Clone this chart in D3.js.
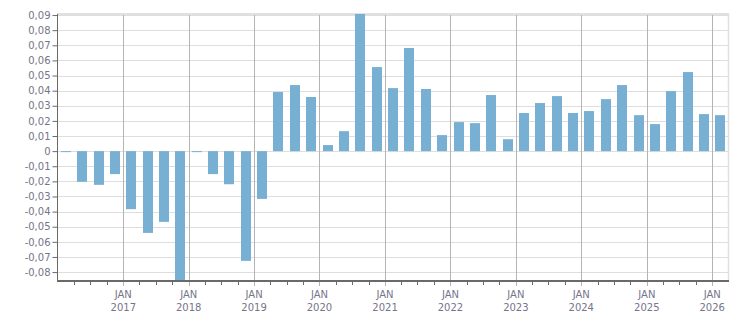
<!DOCTYPE html>
<html>
<head>
<meta charset="utf-8">
<script src="https://cdn.jsdelivr.net/npm/d3@7"></script>
<style>
  body { margin: 0; background: #fff; }
  svg { display: block; font-family: "DejaVu Sans", Verdana, sans-serif; }
  .lbl { fill: #75758a; font-size: 10px; }
</style>
</head>
<body>
<div class="chart"></div>
<script>
// quarters, Q1 2016 .. Q1 2026
const quarters = [
  "2016-01", "2016-04", "2016-07", "2016-10",
  "2017-01", "2017-04", "2017-07", "2017-10",
  "2018-01", "2018-04", "2018-07", "2018-10",
  "2019-01", "2019-04", "2019-07", "2019-10",
  "2020-01", "2020-04", "2020-07", "2020-10",
  "2021-01", "2021-04", "2021-07", "2021-10",
  "2022-01", "2022-04", "2022-07", "2022-10",
  "2023-01", "2023-04", "2023-07", "2023-10",
  "2024-01", "2024-04", "2024-07", "2024-10",
  "2025-01", "2025-04", "2025-07", "2025-10",
  "2026-01"
];
const values = [
  -0.0004, -0.0203, -0.0223, -0.0152,
  -0.0384, -0.0541, -0.0468, -0.0920,
  -0.0004, -0.0152, -0.0219, -0.0726,
  -0.0316, 0.0391, 0.0437, 0.0358,
  0.0040, 0.0132, 0.0930, 0.0556,
  0.0417, 0.0682, 0.0411, 0.0106,
  0.0192, 0.0185, 0.0371, 0.0079,
  0.0252, 0.0318, 0.0364, 0.0252,
  0.0265, 0.0344, 0.0437, 0.0238,
  0.0179, 0.0397, 0.0523, 0.0245,
  0.0238
];
const yTicks = [-0.08, -0.07, -0.06, -0.05, -0.04, -0.03, -0.02, -0.01, 0,
                0.01, 0.02, 0.03, 0.04, 0.05, 0.06, 0.07, 0.08, 0.09];
const janYears = [2017, 2018, 2019, 2020, 2021, 2022, 2023, 2024, 2025, 2026];

const W = 751, H = 313;
const m = { left: 57, right: 728, top: 14, bottom: 281 }; // plot edges in px

const parse = d3.timeParse("%Y-%m");
const data = quarters.map((q, i) => ({ date: parse(q), value: values[i] }));

const x = d3.scaleTime()
    .domain([new Date(2015, 11, 28), new Date(2026, 2, 30)])
    .range([m.left, m.right]);
const y = d3.scaleLinear()
    .domain([-0.0859, 0.0907])
    .range([m.bottom, m.top]);

const locale = d3.formatLocale({ decimal: ",", thousands: ".", grouping: [3], currency: ["", ""], minus: "-" });
const fmt = locale.format(".2f");

const svg = d3.select(".chart").append("svg")
    .attr("width", W)
    .attr("height", H);

svg.append("clipPath").attr("id", "plot")
  .append("rect")
    .attr("x", m.left).attr("y", m.top)
    .attr("width", m.right - m.left).attr("height", m.bottom - m.top);

// horizontal grid
svg.append("g")
  .selectAll("line")
  .data(yTicks)
  .enter().append("line")
    .attr("x1", m.left).attr("x2", m.right)
    .attr("y1", d => Math.round(y(d)) + 0.5)
    .attr("y2", d => Math.round(y(d)) + 0.5)
    .attr("stroke", "#dedede");

// vertical JAN grid lines (go a bit below the axis)
const janDates = janYears.map(yr => new Date(yr, 0, 1));
svg.append("g")
  .selectAll("line")
  .data(janDates)
  .enter().append("line")
    .attr("x1", d => Math.round(x(d)) + 0.5)
    .attr("x2", d => Math.round(x(d)) + 0.5)
    .attr("y1", m.top).attr("y2", m.bottom + 5)
    .attr("stroke", "#b4b4b4");

// top / right border
svg.append("line")
    .attr("x1", m.left).attr("x2", m.right + 1)
    .attr("y1", m.top).attr("y2", m.top)
    .attr("stroke", "#e0e0e0").attr("stroke-width", 2);
svg.append("line")
    .attr("x1", m.right + 0.5).attr("x2", m.right + 0.5)
    .attr("y1", m.top).attr("y2", m.bottom)
    .attr("stroke", "#e0e0e0").attr("stroke-width", 1.5);

// bars
svg.append("g")
    .attr("clip-path", "url(#plot)")
  .selectAll("rect")
  .data(data)
  .enter().append("rect")
    .attr("x", d => {
        const x0 = x(d.date), x1 = x(d3.timeMonth.offset(d.date, 3));
        return Math.round((x0 + x1) / 2 - 5);
    })
    .attr("width", 10)
    .attr("y", d => y(Math.max(0, d.value)))
    .attr("height", d => Math.max(1, Math.abs(y(d.value) - y(0))))
    .attr("fill", "#78b0d3");

// y axis
const yAxis = svg.append("g")
    .attr("transform", "translate(" + (m.left + 0.5) + ",0)")
    .call(d3.axisLeft(y)
        .tickValues(yTicks)
        .tickSize(5)
        .tickPadding(2)
        .tickFormat(d => Math.abs(d) < 1e-9 ? "0" : fmt(d)));
yAxis.attr("font-family", null).attr("font-size", null);
yAxis.select(".domain").attr("stroke", "#6a6a6a").attr("d", "M0," + m.top + "V" + m.bottom);
yAxis.selectAll(".tick line").attr("stroke", "#6a6a6a");
yAxis.selectAll("text")
    .attr("class", "lbl")
    .attr("fill", null);

// quarter minor ticks on x axis
const minor = d3.timeMonth.every(3).range(new Date(2016, 0, 1), new Date(2026, 3, 1))
    .filter(d => d.getMonth() !== 0);
svg.append("g")
  .selectAll("line")
  .data(minor)
  .enter().append("line")
    .attr("x1", d => Math.round(x(d)) + 0.5)
    .attr("x2", d => Math.round(x(d)) + 0.5)
    .attr("y1", m.bottom).attr("y2", m.bottom + 4)
    .attr("stroke", "#6a6a6a");

// x axis line
svg.append("line")
    .attr("x1", m.left).attr("x2", m.right + 1)
    .attr("y1", m.bottom).attr("y2", m.bottom)
    .attr("stroke", "#6a6a6a").attr("stroke-width", 2);

// x labels
const xl = svg.append("g")
  .selectAll("text")
  .data(janDates)
  .enter().append("text")
    .attr("class", "lbl")
    .attr("text-anchor", "middle")
    .attr("x", d => x(d));
xl.append("tspan").attr("x", d => x(d)).attr("y", 298).text("JAN");
xl.append("tspan").attr("x", d => x(d)).attr("y", 311).text(d => d.getFullYear());
</script>
</body>
</html>
